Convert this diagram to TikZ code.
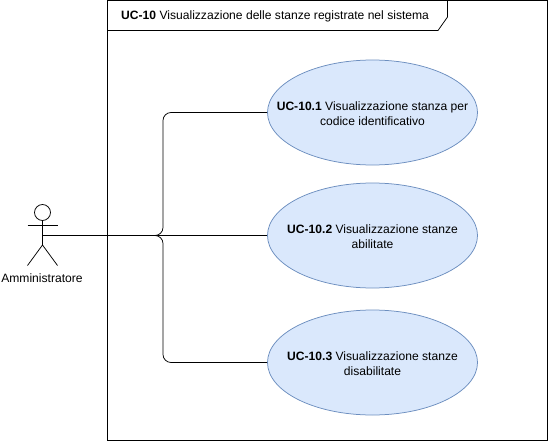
\documentclass[tikz,border=0pt]{standalone}
\usepackage{fontspec}
\setmainfont{Liberation Sans}
\usetikzlibrary{shapes.geometric}
\definecolor{ucfill}{HTML}{DAE8FC}
\definecolor{ucline}{HTML}{6C8EBF}
\tikzset{
  uc/.style={ellipse,draw=ucline,fill=ucfill,line width=0.75pt,minimum width=210pt,minimum height=105pt,inner sep=0pt},
  uctext/.style={align=center,inner sep=0pt,font=\fontsize{12.1}{15.5}\selectfont},
  link/.style={draw=black,line width=0.75pt,rounded corners=8pt},
  stick/.style={draw=black,line width=0.75pt},
  lbl/.style={font=\fontsize{12.1}{14}\selectfont,inner sep=0pt}
}
\begin{document}
\begin{tikzpicture}[x=1pt,y=-1pt]
\useasboundingbox (0,0) rectangle (548,441);
\draw[stick] (107.5,0.5) rectangle (547.5,440.5);
\draw[stick] (107.5,30.5) -- (438,30.5) -- (447.5,17) -- (447.5,0.5);
\node[lbl,anchor=west] (title) at (121,16) {\textbf{UC-10} Visualizzazione delle stanze registrate nel sistema};
\node[uc] (u1) at (372.5,112.5) {};
\node[uc] (u2) at (372.5,235.5) {};
\node[uc] (u3) at (372.5,362.5) {};
\node[uctext] (t1) at ([yshift=-1pt]u1) {\textbf{UC-10.1} Visualizzazione stanza per\\codice identificativo};
\node[uctext] (t2) at ([yshift=-1pt]u2) {\textbf{UC-10.2} Visualizzazione stanze\\abilitate};
\node[uctext] (t3) at ([yshift=-1pt]u3) {\textbf{UC-10.3} Visualizzazione stanze\\disabilitate};
\coordinate (head) at (42.5,212.5);
\draw[stick,fill=white] (head) circle (8);
\coordinate (hip) at (42.5,245);
\draw[stick] (42.5,220.5) -- (hip);
\draw[stick] (27.5,225.5) -- (57.5,225.5);
\draw[stick] (27.5,265.5) -- (hip) -- (57.5,265.5);
\node[lbl] (actor) at (42,278.5) {Amministratore};
\coordinate (src) at (42.5,235.5);
\draw[link] (src) -| (163,112.5) -- (u1.west);
\draw[link] (src) -- (u2.west);
\draw[link] (src) -| (163,362.5) -- (u3.west);
\end{tikzpicture}
\end{document}
